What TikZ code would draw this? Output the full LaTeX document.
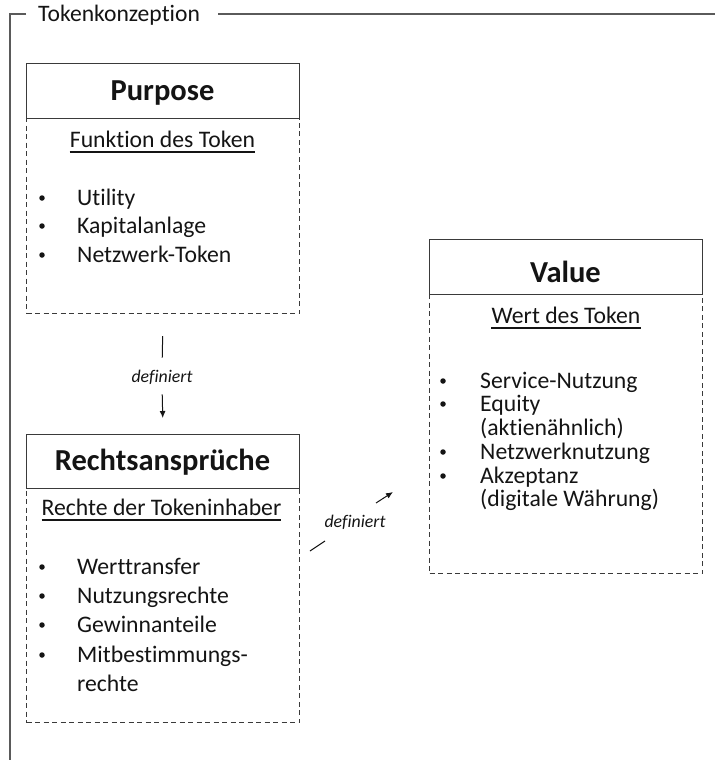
\documentclass[tikz,border=0pt]{standalone}
\usepackage{fontspec}
\setmainfont{Carlito}[Ligatures={NoCommon}]
\usetikzlibrary{arrows.meta}
\definecolor{framec}{HTML}{5A5A5A}
\definecolor{boxc}{HTML}{3A3A3A}
\definecolor{txt}{HTML}{141414}
\begin{document}
\begin{tikzpicture}[x=1pt,y=-1pt,
  body/.style={font=\fontsize{23.7}{28}\selectfont, text=txt, inner sep=0pt, anchor=base west},
  bul/.style={circle, fill=txt, inner sep=0pt, minimum size=5.5pt},
  sub/.style={font=\fontsize{23.7}{28}\selectfont, text=txt, inner sep=0pt, anchor=base},
  ttl/.style={font=\bfseries\fontsize{30.5}{36}\selectfont, text=txt, inner sep=0pt, anchor=base},
  hdr/.style={draw=boxc, line width=1.2pt, fill=white, inner sep=0pt, minimum width=273pt, anchor=north west},
  bodybox/.style={draw=boxc, line width=1.2pt, dash pattern=on 5pt off 3.5pt, inner sep=0pt, minimum width=273pt, anchor=north west},
  lbl/.style={font=\itshape\fontsize{17.8}{20}\selectfont, text=txt, inner sep=0pt},
  conn/.style={draw=txt, line width=1pt},
  tip/.style={-{Latex[length=7pt,width=6pt]}},
  uline/.style={draw=txt, line width=1.3pt}
]
\useasboundingbox (0,0) rectangle (715,760);

% frame
\node[font=\fontsize{23.6}{28}\selectfont, text=txt, inner sep=0pt, anchor=base west] (fr) at (38,22) {Tokenkonzeption};
\coordinate (f1) at (26,14);
\coordinate (f2) at (10,14);
\coordinate (f3) at (10,760);
\coordinate (f4) at (218,14);
\coordinate (f5) at (715,14);
\draw[framec, line width=1.2pt] (f1) -- (f2) -- (f3);
\draw[framec, line width=1.2pt] (f4) -- (f5);

% Purpose
\node[bodybox, minimum height=195pt] (pb) at (26,118) {};
\node[hdr, minimum height=55pt] (ph) at (26,63) {};
\node[ttl] (pt) at (162.5,100) {Purpose};
\node[sub] (ps) at (162.5,147) {Funktion des Token};
\draw[uline] ([yshift=-5pt]ps.base west) -- ([yshift=-5pt]ps.base east);
\node[bul] (pb1) at (42,198) {};
\node[body] (pi1) at (77,205) {Utility};
\node[bul] (pb2) at (42,226) {};
\node[body] (pi2) at (77,233) {Kapitalanlage};
\node[bul] (pb3) at (42,255) {};
\node[body] (pi3) at (77,262) {Netzwerk-Token};

% Rechtsansprueche
\node[bodybox, minimum height=234pt] (rb) at (26,488) {};
\node[hdr, minimum height=54pt] (rh) at (26,434) {};
\node[ttl] (rt) at (162.5,470) {Rechtsansprüche};
\node[sub] (rs) at (161.5,515) {Rechte der Tokeninhaber};
\draw[uline] ([yshift=-5pt]rs.base west) -- ([yshift=-5pt]rs.base east);
\node[bul] (rb1) at (42,567) {};
\node[body] (ri1) at (77,574) {Werttransfer};
\node[bul] (rb2) at (42,596) {};
\node[body] (ri2) at (77,603) {Nutzungsrechte};
\node[bul] (rb3) at (42,625) {};
\node[body] (ri3) at (77,632) {Gewinnanteile};
\node[bul] (rb4) at (42,655) {};
\node[body] (ri4) at (77,662) {Mitbestimmungs-};
\node[body] (ri5) at (77,691) {rechte};

% Value
\node[bodybox, minimum height=279pt] (vb) at (429,294) {};
\node[hdr, minimum height=55pt] (vh) at (429,239) {};
\node[ttl] (vt) at (565.5,282) {Value};
\node[sub] (vs) at (566,323) {Wert des Token};
\draw[uline] ([yshift=-5pt]vs.base west) -- ([yshift=-5pt]vs.base east);
\node[bul] (vb1) at (443,381) {};
\node[body] (vi1) at (480,388) {Service-Nutzung};
\node[bul] (vb2) at (443,404) {};
\node[body] (vi2) at (480,411) {Equity};
\node[body] (vi3) at (480,435) {(aktienähnlich)};
\node[bul] (vb3) at (443,452) {};
\node[body] (vi4) at (480,459) {Netzwerknutzung};
\node[bul] (vb4) at (443,476) {};
\node[body] (vi5) at (480,483) {Akzeptanz};
\node[body] (vi6) at (480,506) {(digitale Währung)};

% connector Purpose -> Rechtsansprueche
\node[lbl] (d1) at (162,377) {definiert};
\draw[conn, shorten <=22pt, shorten >=12pt] (pb.south) -- (d1.north);
\draw[conn, tip, shorten <=10pt, shorten >=16pt] (d1.south) -- (rh.north);

% connector Rechtsansprueche -> Value
\node[lbl] (d2) at (355,522) {definiert};
\coordinate (p1) at (310,551);
\coordinate (p2) at (325,541);
\coordinate (p3) at (376,503);
\coordinate (p4) at (393,492);
\draw[conn] (p1) -- (p2);
\draw[conn, tip] (p3) -- (p4);
\end{tikzpicture}
\end{document}
